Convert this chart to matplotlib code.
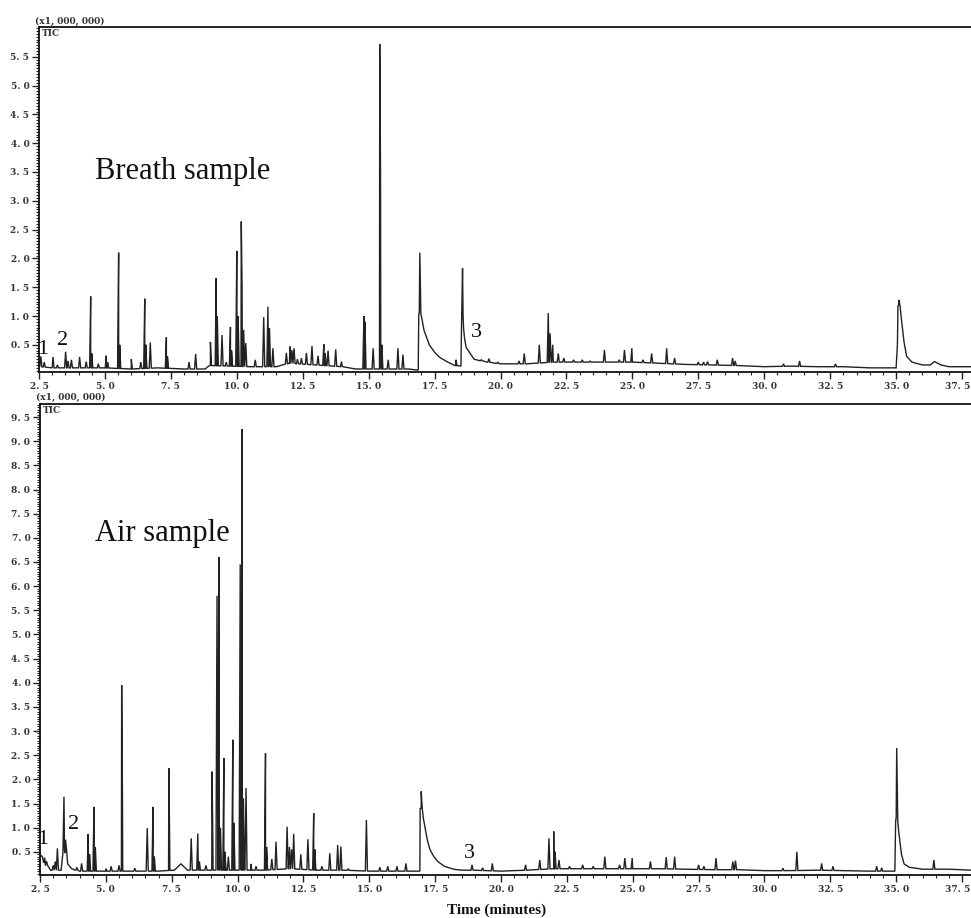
import numpy as np
import matplotlib
matplotlib.use("Agg")
import matplotlib.pyplot as plt
from matplotlib.ticker import MultipleLocator, FixedLocator, FixedFormatter

# ---------------- data ----------------
# Breath sample: peak retention times (min) and apex intensities (x1,000,000)
breath_peak_t = [2.57, 2.70, 3.03, 3.20, 3.51, 3.60, 3.73, 4.04, 4.29, 4.46, 4.50, 4.75,
                 5.05, 5.10, 5.52, 5.56, 6.00, 6.36, 6.51, 6.55, 6.72, 7.33, 7.37, 8.19,
                 8.44, 9.00, 9.22, 9.26, 9.44, 9.60, 9.76, 9.80, 10.00, 10.05, 10.17, 10.20,
                 10.26, 10.34, 10.70, 11.02, 11.18, 11.24, 11.37, 11.88, 12.01, 12.09, 12.17,
                 12.30, 12.45, 12.64, 12.85, 13.08, 13.30, 13.35, 13.46, 13.75, 13.97, 14.82,
                 14.86, 15.17, 15.42, 15.45, 15.50, 15.74, 16.11, 16.30, 16.94, 18.31, 18.56,
                 19.27, 19.56, 19.90, 20.70, 20.90, 21.47, 21.81, 21.88, 21.98, 22.19, 22.40,
                 22.77, 23.10, 23.40, 23.94, 24.50, 24.70, 24.98, 25.40, 25.73, 26.30, 26.60,
                 27.50, 27.70, 27.85, 28.22, 28.80, 28.90, 30.73, 31.34, 32.70, 35.11]
breath_peak_h = [0.30, 0.20, 0.29, 0.15, 0.38, 0.22, 0.24, 0.29, 0.21, 1.34, 0.35, 0.17,
                 0.31, 0.20, 2.10, 0.50, 0.25, 0.20, 1.30, 0.50, 0.54, 0.63, 0.30, 0.20,
                 0.34, 0.55, 1.66, 1.00, 0.67, 0.20, 0.81, 0.40, 2.13, 1.00, 2.64, 1.50,
                 0.76, 0.53, 0.24, 0.98, 1.16, 0.79, 0.44, 0.36, 0.47, 0.41, 0.44,
                 0.25, 0.27, 0.36, 0.48, 0.31, 0.51, 0.35, 0.40, 0.42, 0.21, 1.00,
                 0.90, 0.44, 5.72, 3.50, 0.50, 0.24, 0.44, 0.33, 2.10, 0.24, 1.83,
                 0.24, 0.26, 0.20, 0.22, 0.35, 0.50, 1.05, 0.70, 0.50, 0.35, 0.27,
                 0.24, 0.24, 0.22, 0.41, 0.24, 0.41, 0.44, 0.24, 0.35, 0.44, 0.27,
                 0.20, 0.20, 0.21, 0.24, 0.27, 0.22, 0.17, 0.22, 0.17, 1.28]
# Breath sample: baseline / broad (tailing) signal
breath_base_t = [2.50, 3.00, 4.00, 5.00, 6.00, 7.00, 8.00, 8.80, 9.00, 10.50, 11.50, 12.00,
                 13.00, 14.00, 14.50, 16.50, 16.88, 16.92, 17.00, 17.10, 17.30, 17.50, 17.70,
                 18.00, 18.30, 18.50, 18.58, 18.64, 18.70, 18.85, 19.00, 19.50, 20.00, 21.00,
                 22.00, 23.00, 24.00, 25.00, 26.00, 27.00, 28.00, 29.00, 30.00, 31.00, 32.00,
                 33.00, 34.00, 35.00, 35.05, 35.10, 35.20, 35.30, 35.40, 35.60, 36.00, 36.30,
                 36.45, 36.70, 37.00, 37.84]
breath_base_v = [0.12, 0.10, 0.10, 0.10, 0.08, 0.10, 0.08, 0.08, 0.14, 0.12, 0.12, 0.18,
                 0.15, 0.12, 0.08, 0.08, 0.06, 1.05, 1.00, 0.75, 0.50, 0.37, 0.28,
                 0.20, 0.14, 0.13, 1.00, 0.60, 0.45, 0.35, 0.25, 0.20, 0.17, 0.17,
                 0.20, 0.20, 0.20, 0.20, 0.18, 0.16, 0.15, 0.14, 0.12, 0.13, 0.12,
                 0.12, 0.10, 0.10, 0.50, 1.20, 0.95, 0.55, 0.30, 0.20, 0.15, 0.15,
                 0.21, 0.15, 0.12, 0.12]

# Air sample
air_peak_t = [2.55, 2.68, 2.75, 3.00, 3.08, 3.16, 3.41, 3.47, 3.90, 4.08, 4.33, 4.38, 4.55,
              4.60, 5.00, 5.20, 5.50, 5.60, 5.63, 6.10, 6.57, 6.79, 6.84, 7.39, 7.42, 8.24,
              8.49, 8.55, 8.80, 9.03, 9.06, 9.22, 9.29, 9.35, 9.48, 9.52, 9.65, 9.82, 9.86,
              10.10, 10.17, 10.22, 10.32, 10.50, 10.70, 11.06, 11.10, 11.30, 11.46, 11.88,
              11.97, 12.05, 12.13, 12.40, 12.67, 12.89, 12.93, 13.20, 13.50, 13.80, 13.92,
              14.20, 14.89, 15.40, 15.70, 16.05, 16.39, 16.97, 18.90, 19.30, 19.67, 20.93,
              21.47, 21.82, 22.00, 22.05, 22.20, 22.60, 23.10, 23.50, 23.94, 24.50, 24.70,
              24.98, 25.67, 26.27, 26.59, 27.50, 27.70, 28.16, 28.80, 28.90, 30.70, 31.23,
              32.17, 32.60, 34.26, 34.45, 35.02, 36.43]
air_peak_h = [0.42, 0.38, 0.30, 0.22, 0.30, 0.57, 1.64, 0.75, 0.18, 0.26, 0.87, 0.45, 1.43,
              0.60, 0.15, 0.20, 0.22, 3.95, 1.60, 0.16, 0.99, 1.43, 0.40, 2.23, 0.80, 0.78,
              0.88, 0.30, 0.22, 2.16, 0.80, 5.80, 6.60, 1.00, 2.44, 0.50, 0.40, 2.82, 1.10,
              6.45, 9.25, 1.60, 1.82, 0.25, 0.20, 2.54, 0.60, 0.35, 0.71, 1.02,
              0.60, 0.55, 0.87, 0.45, 0.76, 1.30, 0.55, 0.20, 0.47, 0.64, 0.61,
              0.15, 1.16, 0.18, 0.20, 0.20, 0.26, 1.75, 0.23, 0.17, 0.26, 0.23,
              0.33, 0.78, 0.92, 0.50, 0.33, 0.20, 0.23, 0.20, 0.40, 0.23, 0.37,
              0.37, 0.30, 0.39, 0.40, 0.23, 0.20, 0.37, 0.30, 0.32, 0.16, 0.50,
              0.26, 0.20, 0.20, 0.17, 2.65, 0.33]
air_base_t = [2.50, 2.70, 2.90, 3.30, 3.45, 3.55, 3.70, 4.00, 5.00, 6.00, 7.00, 7.60, 7.85,
              8.10, 9.00, 10.50, 11.00, 12.00, 13.00, 14.00, 15.00, 16.92, 16.97, 17.05,
              17.20, 17.30, 17.45, 17.60, 17.85, 18.20, 18.50, 19.00, 20.00, 21.00, 22.00,
              23.00, 24.00, 25.00, 26.00, 27.00, 28.00, 29.00, 30.00, 31.00, 32.00, 33.00,
              34.00, 34.95, 35.00, 35.10, 35.20, 35.30, 35.50, 36.00, 37.00, 37.84]
air_base_v = [0.45, 0.25, 0.12, 0.12, 0.60, 0.25, 0.15, 0.10, 0.10, 0.10, 0.10, 0.12, 0.25,
              0.12, 0.12, 0.12, 0.12, 0.15, 0.12, 0.12, 0.10, 0.10, 1.40, 1.20,
              0.75, 0.55, 0.40, 0.30, 0.20, 0.14, 0.12, 0.12, 0.10, 0.12, 0.15,
              0.15, 0.15, 0.15, 0.15, 0.14, 0.13, 0.13, 0.11, 0.11, 0.12, 0.11,
              0.10, 0.10, 1.20, 0.90, 0.45, 0.25, 0.18, 0.14, 0.14, 0.12]

x_ticks = [2.5, 5.0, 7.5, 10.0, 12.5, 15.0, 17.5, 20.0, 22.5, 25.0, 27.5, 30.0, 32.5, 35.0, 37.5]
breath_y_ticks = [0.5, 1.0, 1.5, 2.0, 2.5, 3.0, 3.5, 4.0, 4.5, 5.0, 5.5]
air_y_ticks = [0.5, 1.0, 1.5, 2.0, 2.5, 3.0, 3.5, 4.0, 4.5, 5.0, 5.5, 6.0, 6.5, 7.0, 7.5,
               8.0, 8.5, 9.0, 9.5]
panel_titles = ["Breath sample", "Air sample"]
peak_labels = ["1", "2", "3"]
breath_label_t = [2.65, 3.41, 19.1]
breath_label_v = [0.41, 0.58, 0.72]
air_label_t = [2.61, 3.77, 18.82]
air_label_v = [0.75, 1.06, 0.47]

# ---------------- drawing ----------------
SPIKE_HW = 0.04


def trace(peak_t, peak_h, base_t, base_v):
    pt = np.asarray(peak_t, float)
    ph = np.asarray(peak_h, float)
    bt = np.asarray(base_t, float)
    bv = np.asarray(base_v, float)
    xs = list(bt)
    ys = list(bv)
    for t, h in zip(pt, ph):
        b = float(np.interp(t, bt, bv))
        xs += [t - SPIKE_HW, t, t + SPIKE_HW]
        ys += [b, h, b]
    order = np.argsort(np.asarray(xs), kind="stable")
    return np.asarray(xs)[order], np.asarray(ys)[order]


def lab(v):
    return f"{v:.1f}".replace(".", ". ")


W, H = 971, 918
fig = plt.figure(figsize=(W / 100, H / 100), dpi=100)

TF = dict(family="DejaVu Serif", size=6.5, weight="bold", color="#333333")
line_col = "#222222"

panels = [
    dict(rect=[39 / W, 1 - 372 / H, 1 - 39 / W, (372 - 27) / H], ylim=(0.028, 6.017),
         pt=breath_peak_t, ph=breath_peak_h, bt=breath_base_t, bv=breath_base_v,
         yt=breath_y_ticks, title=panel_titles[0], title_y=172,
         lt=breath_label_t, lv=breath_label_v),
    dict(rect=[40 / W, 1 - 875 / H, 1 - 40 / W, (875 - 404) / H], ylim=(0.02, 9.77),
         pt=air_peak_t, ph=air_peak_h, bt=air_base_t, bv=air_base_v,
         yt=air_y_ticks, title=panel_titles[1], title_y=533,
         lt=air_label_t, lv=air_label_v),
]

for p in panels:
    ax = fig.add_axes(p["rect"])
    x, y = trace(p["pt"], p["ph"], p["bt"], p["bv"])
    ax.plot(x, y, color=line_col, lw=1.0, solid_joinstyle="miter")
    ax.set_xlim(2.5, 37.84)
    ax.set_ylim(*p["ylim"])
    for s in ["left", "bottom", "top"]:
        ax.spines[s].set_linewidth(1.3)
        ax.spines[s].set_color("#111111")
    ax.spines["right"].set_visible(False)

    # last x label (37.5) sits at the cut right edge: drawn separately, right-aligned
    x_labels = [lab(v) for v in x_ticks[:-1]] + [""]
    ax.xaxis.set_major_locator(FixedLocator(x_ticks))
    ax.xaxis.set_major_formatter(FixedFormatter(x_labels))
    ax.xaxis.set_minor_locator(MultipleLocator(0.5))
    ax.yaxis.set_major_locator(FixedLocator(p["yt"]))
    ax.yaxis.set_major_formatter(FixedFormatter([lab(v) for v in p["yt"]]))
    ax.yaxis.set_minor_locator(MultipleLocator(0.05))
    ax.tick_params(axis="both", which="major", direction="out", length=5, width=1.0,
                   color="#222222", pad=2, labelcolor=TF["color"])
    ax.tick_params(axis="both", which="minor", direction="out", length=2.5, width=0.8,
                   color="#222222")
    for lbl in ax.get_xticklabels() + ax.get_yticklabels():
        lbl.set_fontfamily(TF["family"])
        lbl.set_fontsize(TF["size"])
        lbl.set_fontweight(TF["weight"])
    ax.annotate(lab(x_ticks[-1]), xy=(x_ticks[-1], 0), xycoords=("data", "axes fraction"),
                xytext=(6.2, -7), textcoords="offset points", ha="right", va="top",
                fontsize=TF["size"], family=TF["family"], weight=TF["weight"],
                color=TF["color"], annotation_clip=False)

    ax.text(-0.004, 1.004, "(x1, 000, 000)", transform=ax.transAxes, ha="left", va="bottom",
            fontsize=6.5, family="DejaVu Serif", weight="bold", color="#333333")
    ax.text(0.003, 0.995, "TIC", transform=ax.transAxes, ha="left", va="top",
            fontsize=6.5, family="DejaVu Serif", weight="bold", color="#333333")

    fig.text(95 / W, 1 - p["title_y"] / H, p["title"], ha="left", va="center",
             fontsize=22, family="Liberation Serif", color="#111111")
    for s, t, v in zip(peak_labels, p["lt"], p["lv"]):
        ax.text(t, v, s, ha="center", va="center", fontsize=16,
                family="Liberation Serif", color="#111111")

fig.text(497 / W, 1 - 910 / H, "Time (minutes)", ha="center", va="center",
         fontsize=11, family="Liberation Serif", weight="bold", color="#111111")

fig.savefig("out.png", dpi=100)
